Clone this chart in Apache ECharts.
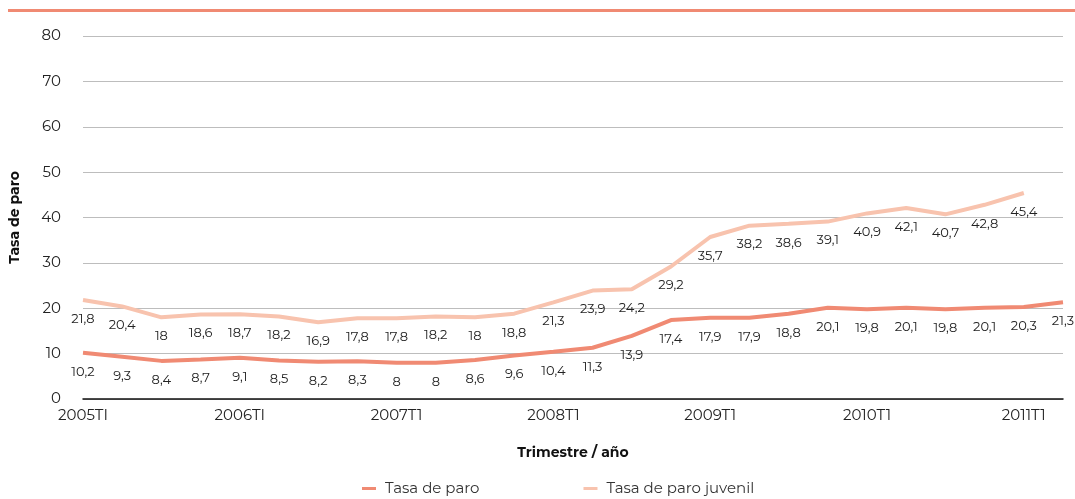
<!DOCTYPE html>
<html>
<head>
<meta charset="utf-8">
<script src="https://cdn.jsdelivr.net/npm/echarts@6/dist/echarts.min.js"></script>
<style>
  html, body { margin: 0; padding: 0; background: #fff; }
  #main { width: 1075px; height: 499px; }
</style>
</head>
<body>
<div id="main"></div>
<script>
// trimestres 2005T1 - 2011T2
const categories = [
  "2005TI", "2005TII", "2005TIII", "2005TIV",
  "2006TI", "2006TII", "2006TIII", "2006TIV",
  "2007T1", "2007T2", "2007T3", "2007T4",
  "2008T1", "2008T2", "2008T3", "2008T4",
  "2009T1", "2009T2", "2009T3", "2009T4",
  "2010T1", "2010T2", "2010T3", "2010T4",
  "2011T1", "2011T2"
];
const tasaParo = [10.2, 9.3, 8.4, 8.7, 9.1, 8.5, 8.2, 8.3, 8, 8, 8.6, 9.6, 10.4, 11.3, 13.9, 17.4, 17.9, 17.9, 18.8, 20.1, 19.8, 20.1, 19.8, 20.1, 20.3, 21.3];
const tasaJuvenil = [21.8, 20.4, 18, 18.6, 18.7, 18.2, 16.9, 17.8, 17.8, 18.2, 18, 18.8, 21.3, 23.9, 24.2, 29.2, 35.7, 38.2, 38.6, 39.1, 40.9, 42.1, 40.7, 42.8, 45.4];

const colorParo = "#f08a73";
const colorJuvenil = "#f8c3ae";

const font = "Montserrat, 'Open Sans', 'Noto Sans', sans-serif";
const fmt = p => String(p.value).replace(".", ",");

let myChart = echarts.init(document.getElementById("main"));

// simbolo invisible para que se vean las etiquetas
function lineSerie(name, data, color, z) {
  return {
    name: name,
    type: "line",
    data: data,
    symbol: "circle",
    symbolSize: 1,
    showSymbol: true,
    itemStyle: { color: "rgba(0,0,0,0)" },
    lineStyle: { width: 4, color: color },
    label: {
      show: true,
      position: "bottom",
      distance: 12,
      formatter: fmt,
      color: "#222",
      fontSize: 13,
      fontFamily: font
    },
    labelLayout: { hideOverlap: false },
    z: z
  };
}

let option = {
  backgroundColor: "#fff",
  textStyle: { fontFamily: font },
  graphic: [
    {
      type: "rect",
      shape: { x: 8, y: 9, width: 1067, height: 3 },
      style: { fill: colorParo }
    }
  ],
  grid: { left: 82, right: 12, top: 36, bottom: 100 },
  legend: {
    top: 476,
    left: 357,
    itemGap: 104,
    itemWidth: 14,
    itemHeight: 3,
    icon: "rect",
    textStyle: { fontSize: 15, color: "#333", fontFamily: font, padding: [0, 0, 0, 4] },
    data: [
      { name: "Tasa de paro", itemStyle: { color: colorParo } },
      { name: "Tasa de paro juvenil", itemStyle: { color: colorJuvenil } }
    ]
  },
  xAxis: {
    type: "category",
    data: categories,
    boundaryGap: false,
    name: "Trimestre / año",
    nameLocation: "middle",
    nameGap: 47,
    nameTextStyle: { fontWeight: "bold", fontSize: 14, color: "#111", fontFamily: font },
    axisLine: { lineStyle: { color: "#111", width: 1.5 } },
    axisTick: { show: false },
    axisLabel: {
      interval: 3,
      color: "#222",
      fontSize: 15,
      margin: 9,
      fontFamily: font
    }
  },
  yAxis: {
    type: "value",
    min: 0,
    max: 80,
    interval: 10,
    name: "Tasa de paro",
    nameLocation: "middle",
    nameGap: 61,
    nameTextStyle: { fontWeight: "bold", fontSize: 14, color: "#111", fontFamily: font },
    axisLine: { show: false },
    axisTick: { show: false },
    splitLine: { lineStyle: { color: "#bdbdbd", width: 1 } },
    axisLabel: { color: "#222", fontSize: 15, margin: 22, fontFamily: font }
  },
  series: [
    lineSerie("Tasa de paro", tasaParo, colorParo, 3),
    lineSerie("Tasa de paro juvenil", tasaJuvenil, colorJuvenil, 2)
  ]
};

myChart.setOption(option);
</script>
</body>
</html>
